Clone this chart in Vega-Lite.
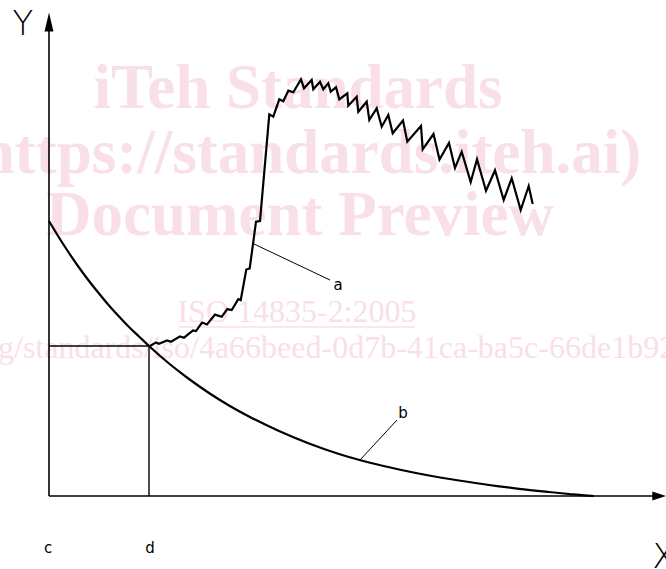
{
  "$schema": "https://vega.github.io/schema/vega-lite/v6.json",
  "width": 666,
  "height": 569,
  "autosize": {"type": "none"},
  "padding": 0,
  "background": "white",
  "config": {"view": {"stroke": null}},
  "datasets": {
    "wmBold": [
      {"x": 249, "y": 388, "t": "iTeh Standards"},
      {"x": 251, "y": 323, "t": "(https://standards.iteh.ai)"},
      {"x": 251, "y": 261, "t": "Document Preview"}
    ],
    "wmIso": [{"x": 248, "y": 174, "t": "ISO 14835-2:2005"}],
    "wmUrl": [{"x": -51, "y": 138, "t": "g/standards/iso/4a66beed-0d7b-41ca-ba5c-66de1b92"}],
    "underline": [{"s": "u", "x": 130, "y": 169}, {"s": "u", "x": 366, "y": 169}],
    "guides": [
      {"s": "h", "x": 0, "y": 150}, {"s": "h", "x": 100, "y": 150},
      {"s": "v", "x": 100, "y": 150}, {"s": "v", "x": 100, "y": 0}
    ],
    "axes": [
      {"s": "ya", "x": 0, "y": 0}, {"s": "ya", "x": 0, "y": 468},
      {"s": "xa", "x": 0, "y": 0}, {"s": "xa", "x": 606, "y": 0}
    ],
    "leaders": [
      {"s": "a", "x": 205, "y": 252}, {"s": "a", "x": 281, "y": 216},
      {"s": "b", "x": 311, "y": 36}, {"s": "b", "x": 348, "y": 76}
    ],
    "curveB": [
      {"x": 0, "y": 275}, {"x": 10, "y": 258.5}, {"x": 20, "y": 243}, {"x": 30, "y": 228.5},
      {"x": 40, "y": 215}, {"x": 50, "y": 202.5}, {"x": 60, "y": 190.5}, {"x": 70, "y": 179.5},
      {"x": 80, "y": 169}, {"x": 90, "y": 159.5}, {"x": 100, "y": 150}, {"x": 120, "y": 132.5},
      {"x": 140, "y": 117}, {"x": 160, "y": 103}, {"x": 180, "y": 90.5}, {"x": 200, "y": 79.5},
      {"x": 230, "y": 65}, {"x": 260, "y": 52.5}, {"x": 290, "y": 42}, {"x": 320, "y": 33.5},
      {"x": 350, "y": 26.5}, {"x": 380, "y": 20.5}, {"x": 410, "y": 15.5}, {"x": 440, "y": 11},
      {"x": 470, "y": 7.2}, {"x": 500, "y": 4}, {"x": 520, "y": 2}, {"x": 535, "y": 0.6},
      {"x": 545, "y": 0}
    ],
    "curveA": [
      {"x": 101, "y": 150}, {"x": 107, "y": 153.6}, {"x": 110, "y": 152.3}, {"x": 118, "y": 155.6},
      {"x": 122, "y": 154.3}, {"x": 131, "y": 159.6}, {"x": 135, "y": 158.3}, {"x": 144, "y": 165.6},
      {"x": 147, "y": 164.9}, {"x": 153, "y": 173.5}, {"x": 158, "y": 171.5}, {"x": 166, "y": 181.4},
      {"x": 172.7, "y": 179.2}, {"x": 178.3, "y": 186.9}, {"x": 182.7, "y": 185.9}, {"x": 189.3, "y": 196.9},
      {"x": 191.7, "y": 195.8}, {"x": 197.3, "y": 226.5}, {"x": 200.7, "y": 227.5}, {"x": 207, "y": 274.3},
      {"x": 211, "y": 275}, {"x": 220.3, "y": 381.7}, {"x": 224.3, "y": 379.3}, {"x": 230.3, "y": 396.7},
      {"x": 234.3, "y": 394.7}, {"x": 239.3, "y": 405.3}, {"x": 244.3, "y": 403.7}, {"x": 252, "y": 416.7},
      {"x": 255, "y": 407.7}, {"x": 262.7, "y": 416}, {"x": 264.3, "y": 406.7}, {"x": 271, "y": 414.3},
      {"x": 274.3, "y": 406.7}, {"x": 279.3, "y": 412.7}, {"x": 281.7, "y": 404.3}, {"x": 287, "y": 408.7},
      {"x": 290.3, "y": 396.7}, {"x": 298.3, "y": 402.7}, {"x": 299.3, "y": 390.3}, {"x": 307.7, "y": 399.3},
      {"x": 309.3, "y": 384.3}, {"x": 317.7, "y": 394.3}, {"x": 320.3, "y": 376}, {"x": 327.7, "y": 387.7},
      {"x": 332.7, "y": 369.3}, {"x": 339.3, "y": 381}, {"x": 343.7, "y": 362.7}, {"x": 354, "y": 375.5},
      {"x": 358.3, "y": 354.3}, {"x": 372, "y": 370}, {"x": 373.7, "y": 346.7}, {"x": 384.5, "y": 362},
      {"x": 390.5, "y": 336.5}, {"x": 400, "y": 353}, {"x": 406, "y": 328}, {"x": 412.7, "y": 344.3},
      {"x": 421.7, "y": 314}, {"x": 428, "y": 336.7}, {"x": 437, "y": 305.3}, {"x": 446, "y": 325.7},
      {"x": 454.7, "y": 296}, {"x": 462.7, "y": 317.7}, {"x": 471.7, "y": 286}, {"x": 479.7, "y": 310},
      {"x": 483.7, "y": 292}
    ],
    "arrowY": [{"x": 0, "y": 474}],
    "arrowX": [{"x": 610.3, "y": 0}],
    "labels": [
      {"x": -1, "y": -52, "t": "c"},
      {"x": 101, "y": -52, "t": "d"},
      {"x": 289, "y": 211, "t": "a"},
      {"x": 354, "y": 83, "t": "b"}
    ],
    "big": [
      {"x": -26, "y": 471, "t": "Y"},
      {"x": 615, "y": -62, "t": "X"}
    ]
  },
  "encoding": {
    "x": {"field": "x", "type": "quantitative", "scale": {"domain": [-49, 617], "nice": false, "zero": false}, "axis": null},
    "y": {"field": "y", "type": "quantitative", "scale": {"domain": [-73, 496], "nice": false, "zero": false}, "axis": null}
  },
  "layer": [
    {
      "data": {"name": "wmBold"},
      "mark": {"type": "text", "font": "Liberation Serif", "fontWeight": "bold", "fontSize": 63, "color": "#f9e0e7", "align": "center", "baseline": "alphabetic"},
      "encoding": {"text": {"field": "t"}}
    },
    {
      "data": {"name": "wmIso"},
      "mark": {"type": "text", "font": "Liberation Serif", "fontSize": 32, "color": "#f9e0e7", "align": "center", "baseline": "alphabetic"},
      "encoding": {"text": {"field": "t"}}
    },
    {
      "data": {"name": "wmUrl"},
      "mark": {"type": "text", "font": "Liberation Serif", "fontSize": 32, "color": "#f9e0e7", "align": "left", "baseline": "alphabetic"},
      "encoding": {"text": {"field": "t"}}
    },
    {
      "data": {"name": "underline"},
      "mark": {"type": "line", "color": "#f9e0e7", "strokeWidth": 1.5},
      "encoding": {"detail": {"field": "s"}}
    },
    {
      "data": {"name": "guides"},
      "mark": {"type": "line", "color": "black", "strokeWidth": 1.4},
      "encoding": {"detail": {"field": "s"}}
    },
    {
      "data": {"name": "axes"},
      "mark": {"type": "line", "color": "black", "strokeWidth": 1.6},
      "encoding": {"detail": {"field": "s"}}
    },
    {
      "data": {"name": "leaders"},
      "mark": {"type": "line", "color": "black", "strokeWidth": 1},
      "encoding": {"detail": {"field": "s"}}
    },
    {
      "data": {"name": "curveB"},
      "mark": {"type": "line", "color": "black", "strokeWidth": 2.2, "interpolate": "monotone"},
      "encoding": {}
    },
    {
      "data": {"name": "curveA"},
      "mark": {"type": "line", "color": "black", "strokeWidth": 2.2, "strokeJoin": "miter"},
      "encoding": {}
    },
    {
      "data": {"name": "arrowY"},
      "mark": {"type": "point", "filled": true, "color": "black", "opacity": 1, "strokeWidth": 0, "size": 361, "shape": "M0,-1L0.47,1L-0.47,1Z"}
    },
    {
      "data": {"name": "arrowX"},
      "mark": {"type": "point", "filled": true, "color": "black", "opacity": 1, "strokeWidth": 0, "size": 196, "shape": "M1,0L-1,0.64L-1,-0.64Z"}
    },
    {
      "data": {"name": "labels"},
      "mark": {"type": "text", "font": "DejaVu Sans", "fontSize": 15, "color": "black", "align": "center", "baseline": "middle"},
      "encoding": {"text": {"field": "t"}}
    },
    {
      "data": {"name": "big"},
      "mark": {"type": "text", "font": "DejaVu Sans", "fontWeight": 200, "fontSize": 34, "color": "black", "align": "center", "baseline": "middle"},
      "encoding": {"text": {"field": "t"}}
    }
  ]
}
